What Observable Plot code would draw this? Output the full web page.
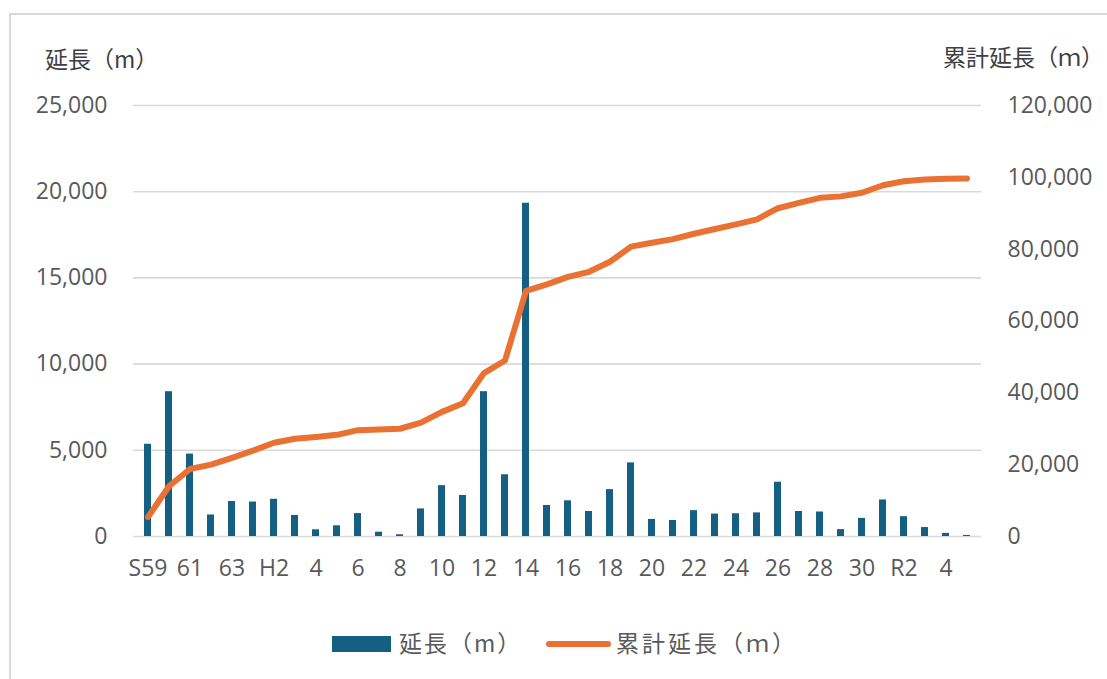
<!DOCTYPE html>
<html>
<head>
<meta charset="utf-8">
<script src="https://cdn.jsdelivr.net/npm/d3@7"></script>
<script src="https://cdn.jsdelivr.net/npm/@observablehq/plot@0.6"></script>
<style>
  html, body { margin: 0; padding: 0; background: #fff; }
  #wrap { position: relative; width: 1107px; height: 679px; overflow: hidden; background: #fff;
          font-family: "Open Sans", "Noto Sans CJK JP", sans-serif; color: #595959; }
  .frame { position: absolute; left: 9px; top: 13px; width: 1300px; height: 900px;
           border-left: 2px solid #d9d9d9; border-top: 2px solid #d9d9d9; }
  #chart { position: absolute; left: 0; top: 0; }
  .title { position: absolute; font-size: 23px; line-height: 26px; white-space: nowrap;
           font-family: "Noto Sans CJK JP", sans-serif; color: #404040; }
  .legend { position: absolute; left: 0; top: 629px; height: 26px; white-space: nowrap;
            font-family: "Noto Sans CJK JP", sans-serif; font-size: 23px; color: #595959; }
  .legend .sw { position: absolute; }
  .legend .lab { position: absolute; line-height: 26px; top: 0; }
</style>
</head>
<body>
<div id="wrap">
  <div class="frame"></div>
  <div id="chart"></div>
  <div class="title" style="left:45px; top:45px;">延長（m）</div>
  <div class="title" style="right:3px; top:43px;">累計延長（ｍ）</div>
  <div class="legend">
    <div class="sw" style="left:332px; top:7px; width:59px; height:16px; background:#156082;"></div>
    <div class="lab" style="left:399px; letter-spacing:2px;">延長（m）</div>
    <div class="sw" style="left:546px; top:12px; width:65px; height:6px; border-radius:3px; background:#E97132;"></div>
    <div class="lab" style="left:616px; letter-spacing:3px;">累計延長（ｍ）</div>
  </div>
</div>
<script>
const categories = ["S59","S60","S61","S62","S63","H1","H2","H3","H4","H5","H6","H7","H8","H9","H10",
  "H11","H12","H13","H14","H15","H16","H17","H18","H19","H20","H21","H22","H23","H24","H25",
  "H26","H27","H28","H29","H30","R1","R2","R3","R4","R5"];
const lengths = [5350, 8400, 4780, 1250, 2030, 2000, 2160, 1220, 390, 620, 1330, 250, 100, 1600, 2950,
  2380, 8400, 3580, 19330, 1800, 2070, 1450, 2720, 4270, 990, 930, 1500, 1300, 1320, 1370,
  3150, 1450, 1420, 400, 1050, 2120, 1150, 520, 180, 60];
const cumulative = [5400, 14000, 18800, 20000, 21900, 23900, 26100, 27200, 27700, 28300, 29600, 29800, 30000, 31700, 34700,
  37100, 45500, 49000, 68400, 70200, 72300, 73700, 76500, 80700, 81800, 82800, 84300, 85600, 86900, 88300,
  91400, 92900, 94300, 94700, 95700, 97800, 98900, 99400, 99600, 99700];
const xTickKeys = ["S59","S61","S63","H2","H4","H6","H8","H10","H12","H14","H16","H18","H20","H22","H24","H26","H28","H30","R2","R4"];
const xTickLabels = ["S59","61","63","H2","4","6","8","10","12","14","16","18","20","22","24","26","28","30","R2","4"];
const leftTicks = [0, 5000, 10000, 15000, 20000, 25000];
const rightTicks = [0, 20000, 40000, 60000, 80000, 100000, 120000];
const leftMax = 25000, rightMax = 120000;

const k = leftMax / rightMax;
const rows = categories.map((c, i) => ({cat: c, len: lengths[i], cum: cumulative[i] * k}));
const labelMap = new Map(xTickKeys.map((key, i) => [key, xTickLabels[i]]));
const fmt = d3.format(",");

const chart = Plot.plot({
  width: 1107,
  height: 600,
  marginLeft: 133,
  marginRight: 126,
  marginTop: 105,
  marginBottom: 64,
  style: {fontSize: "23px", fontFamily: "'Open Sans', 'Noto Sans CJK JP', sans-serif", color: "#595959", background: "transparent"},
  x: {domain: categories, paddingInner: 0.68, paddingOuter: 0.34},
  y: {domain: [0, leftMax]},
  marks: [
    Plot.gridY(leftTicks, {stroke: "#d9d9d9", strokeOpacity: 1, strokeWidth: 1.6}),
    Plot.barY(rows, {x: "cat", y: "len", fill: "#156082"}),
    Plot.lineY(rows, {x: "cat", y: "cum", stroke: "#E97132", strokeWidth: 6, strokeLinecap: "round", strokeLinejoin: "round"}),
    Plot.axisY(leftTicks, {anchor: "left", tickFormat: fmt, tickSize: 0, tickPadding: 26, label: null}),
    Plot.axisY(rightTicks.map(v => v * k), {anchor: "right", tickFormat: d => fmt(Math.round(d / k)), tickSize: 0, tickPadding: 26, label: null}),
    Plot.axisX(xTickKeys, {tickFormat: d => labelMap.get(d), tickSize: 0, tickPadding: 23, label: null})
  ]
});
document.getElementById("chart").appendChild(chart);
</script>
</body>
</html>
